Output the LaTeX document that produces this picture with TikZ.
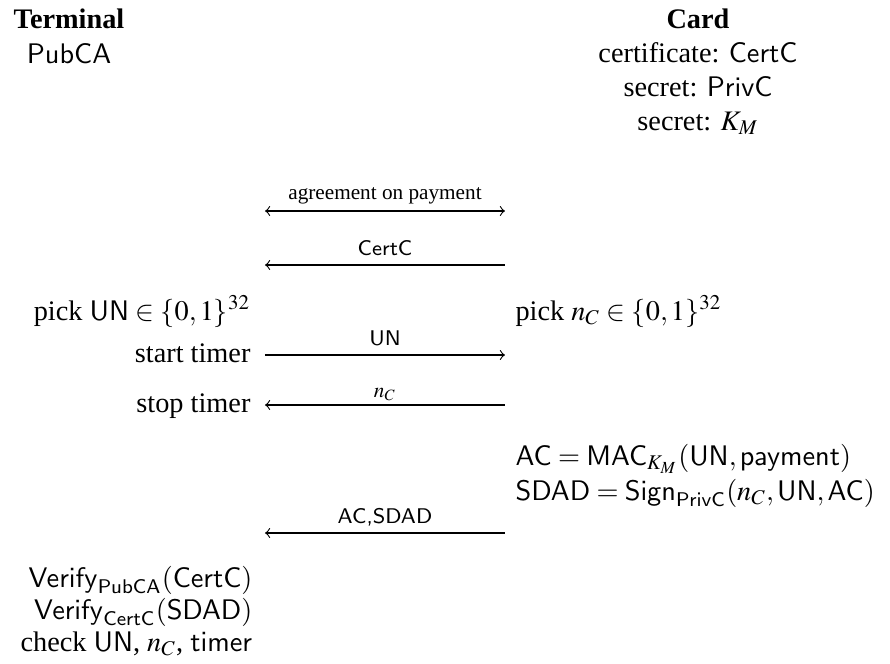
\documentclass[tikz,border=0pt]{standalone}
\usepackage{amsmath}
\usepackage{mathptmx}
\usepackage{fontspec}
\setmainfont{Liberation Serif}
\usepackage{tikz}

\tikzset{
	txt/.style={inner sep=0pt},
	lbl/.style={inner sep=0pt, font=\fontsize{7.5}{9}\selectfont},
	msg/.style={line width=0.4pt},
}

\begin{document}
\begin{tikzpicture}[x=0.3534pt, y=-0.3534pt]
		\useasboundingbox (0,0) rectangle (890,664);
		\begin{scope}
			% terminal side
			\node[txt, anchor=base, font=\bfseries] (term) at (69,28) {Terminal};
			\node[txt, anchor=base] (pubca) at (69,63) {\textsf{PubCA}};
			% card side
			\node[txt, anchor=base, font=\bfseries] (card) at (698,28) {Card};
			\node[txt, anchor=base] (cert) at (698,62) {certificate: \textsf{CertC}};
			\node[txt, anchor=base] (priv) at (698,96) {secret: \textsf{PrivC}};
			\node[txt, anchor=base] (km) at (698,130) {secret: $K_M$};

			\coordinate (t1) at (265,211); \coordinate (c1) at (505,211);
			\draw[msg, <->] (t1) -- (c1); % agreement
			\node[lbl, anchor=base] (l1) at (385,199) {agreement on payment};

			\coordinate (t2) at (265,265); \coordinate (c2) at (505,265);
			\draw[msg, <-] (t2) -- (c2); % certificate
			\node[lbl, anchor=base] (l2) at (385,255) {\textsf{CertC}};

			\node[txt, anchor=base east] (pickun) at (251,320) {pick $\mathsf{UN}\in\{0,1\}^{32}$};
			\node[txt, anchor=base west] (picknc) at (515,320) {pick $n_C\in\{0,1\}^{32}$};

			\node[txt, anchor=base east] (start) at (251,362) {start timer};
			\coordinate (t3) at (265,355); \coordinate (c3) at (505,355);
			\draw[msg, ->] (t3) -- (c3); % UN
			\node[lbl, anchor=base] (l3) at (385,345) {\textsf{UN}};

			\node[txt, anchor=base east] (stop) at (251,412) {stop timer};
			\coordinate (t4) at (265,405); \coordinate (c4) at (505,405);
			\draw[msg, <-] (t4) -- (c4); % n_C
			\node[lbl, anchor=base] (l4) at (385,397) {$n_C$};

			\node[txt, anchor=base west] (ac) at (515,465) {$\mathsf{AC}=\mathsf{MAC}_{K_M}(\mathsf{UN},\mathsf{payment})$};
			\node[txt, anchor=base west] (sdad) at (515,500) {$\mathsf{SDAD}=\mathsf{Sign}_{\mathsf{PrivC}}(n_C,\mathsf{UN},\mathsf{AC})$};

			\coordinate (t5) at (265,533); \coordinate (c5) at (505,533);
			\draw[msg, <-] (t5) -- (c5); % AC, SDAD
			\node[lbl, anchor=base] (l5) at (385,523) {\textsf{AC,SDAD}};

			\node[txt, anchor=base east] (ver1) at (253,587) {$\mathsf{Verify}_{\mathsf{PubCA}}(\mathsf{CertC})$};
			\node[txt, anchor=base east] (ver2) at (253,619) {$\mathsf{Verify}_{\mathsf{CertC}}(\mathsf{SDAD})$};
			\node[txt, anchor=base east] (check) at (253,651) {check $\mathsf{UN}$, $n_C$, $\mathsf{timer}$};
		\end{scope}
\end{tikzpicture}
\end{document}
